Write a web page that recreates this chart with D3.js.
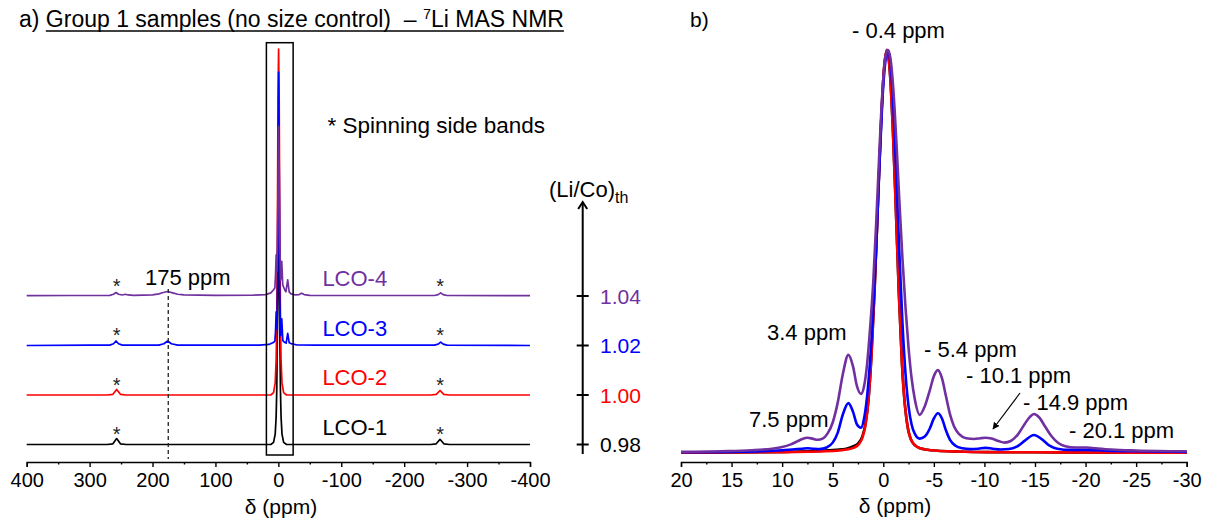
<!DOCTYPE html>
<html><head><meta charset="utf-8">
<script src="https://cdn.jsdelivr.net/npm/d3@7"></script>
<style>
body{margin:0;background:#fff}
svg{display:block}
text{font-family:"Liberation Sans",Arial,Helvetica,sans-serif}
</style>
</head><body>
<svg id="chart" width="1207" height="523"></svg>
<script>
// ---------------- DATA ----------------
const sampleNames = ["LCO-1", "LCO-2", "LCO-3", "LCO-4"];
const liCoValues = [0.98, 1.00, 1.02, 1.04];
const liCoLabels = ["0.98", "1.00", "1.02", "1.04"];
const sampleColors = ["#000000", "#ff0000", "#0000ff", "#7030a0"];

const ppmTicksA = [400, 300, 200, 100, 0, -100, -200, -300, -400];
const ppmMinorA = [350, 250, 150, 50, -50, -150, -250, -350];
const ppmTicksB = [20, 15, 10, 5, 0, -5, -10, -15, -20, -25, -30];
const ppmMinorB = [17.5, 12.5, 7.5, 2.5, -2.5, -7.5, -12.5, -17.5, -22.5, -27.5];

const sidebandPpm = [257, -257];
const markerPpm = 175;
const zoomBoxPpm = [19, -23.5];

// panel a spectra: [ppm, intensity] (LCO-2 main peak = 100)
const specA_LCO1 = [[400,0],[272,0],[263,0.2],[257,1.7],[251,0.2],[242,0],[12,0],[7.6,0.6],[5,3],[3.5,8],[2.5,16],[1.5,33],[0.5,52],[-0.4,60],[-1.3,52],[-2.3,33],[-3.3,16],[-4.3,8],[-5.8,3],[-8.4,0.6],[-13,0],[-242,0],[-251,0.2],[-257,1.5],[-263,0.2],[-272,0],[-400,0]];
const specA_LCO2 = [[400,0],[272,0],[263,0.2],[257,1.6],[251,0.2],[242,0],[12,0],[7.6,0.7],[5,3.5],[3.5,10],[2.5,22],[1.5,48],[0.5,86],[-0.4,100],[-1.3,86],[-2.3,48],[-3.3,22],[-4.3,10],[-5.8,3.5],[-8.4,0.7],[-13,0],[-242,0],[-251,0.2],[-257,1.3],[-263,0.2],[-272,0],[-400,0]];
const specA_LCO3 = [[400,0],[300,0.1],[268,0.1],[262,0.5],[258,1.3],[254,0.5],[248,0.1],[190,0.1],[182,0.5],[176,1.3],[170,0.5],[160,0.1],[30,0.1],[15,0.3],[9,0.8],[7.5,0.9],[5.5,1.3],[4.5,4],[3.45,9.7],[2.2,4.9],[1.3,18],[0.4,55],[-0.4,79],[-1.3,54],[-2.2,15.4],[-3.6,2.8],[-5.4,7.7],[-7.1,1.4],[-10.1,0.9],[-12.4,0.7],[-14.9,3.5],[-17.2,0.8],[-20.1,0.55],[-30,0.15],[-60,0.1],[-248,0.1],[-254,0.4],[-258,1.0],[-262,0.4],[-268,0.1],[-400,0]];
const specA_LCO4 = [[400,0.1],[330,0.15],[290,0.15],[268,0.2],[262,0.5],[258,1.0],[254,0.5],[248,0.3],[243,0.5],[239,0.3],[230,0.2],[200,0.3],[190,0.6],[183,1.0],[176,1.3],[168,0.9],[160,0.5],[150,0.3],[100,0.2],[40,0.25],[20,0.4],[12,0.9],[7.5,1.8],[5.5,2.4],[4.5,6],[3.45,11.9],[2.2,7.2],[1.3,15],[0.4,38],[-0.4,49],[-1.3,37],[-2.2,17.5],[-3.6,4.6],[-5.4,10],[-7.0,3.2],[-10.1,1.8],[-12,1.2],[-14.9,4.7],[-17.2,1.2],[-20.1,0.6],[-26,0.35],[-33,0.4],[-37,0.8],[-41,0.4],[-50,0.2],[-120,0.15],[-248,0.15],[-254,0.4],[-258,0.9],[-262,0.4],[-268,0.15],[-400,0.1]];

// panel b spectra (normalised, main peak = 100)
const specB_LCO1 = [[20,0],[12,0.1],[9.65,0.2],[6.65,0.4],[4.65,0.7],[3.65,1.0],[2.95,1.6],[2.45,2.4],[2.05,4.2],[1.75,7.3],[1.45,13.5],[1.15,25],[0.85,41],[0.55,60.6],[0.25,80],[-0.05,94.6],[-0.35,100],[-0.65,94.6],[-0.95,80],[-1.25,60],[-1.55,39],[-1.85,22],[-2.15,11.5],[-2.45,5.8],[-2.75,3.2],[-3.15,1.8],[-3.65,1.1],[-4.35,0.75],[-5.35,0.5],[-7.35,0.3],[-10.35,0.15],[-15,0.1],[-20,0.05],[-30,0]];
const specB_LCO2 = [[20,0],[12,0.1],[9.65,0.15],[6.65,0.3],[4.65,0.5],[3.65,0.8],[2.95,1.2],[2.45,2.0],[2.05,3.8],[1.75,7],[1.45,13.5],[1.15,25],[0.85,41],[0.55,60.6],[0.25,80],[-0.05,94.6],[-0.35,100],[-0.65,94.6],[-0.95,80],[-1.25,60],[-1.55,39],[-1.85,22],[-2.15,11.5],[-2.45,5.8],[-2.75,3.2],[-3.15,1.8],[-3.65,1.1],[-4.35,0.75],[-5.35,0.5],[-7.35,0.3],[-10.35,0.15],[-15,0.1],[-20,0.05],[-30,0]];
const specB_LCO3 = [[20,0.1],[15,0.2],[12,0.35],[10,0.6],[9,0.8],[8,1.0],[7.5,1.1],[7,1.0],[6.3,0.9],[5.6,1.3],[5.0,2.5],[4.5,5],[4.0,9.5],[3.45,12.3],[3.0,10.2],[2.6,7],[2.2,6.2],[1.9,8.5],[1.6,14],[1.3,23],[1.0,35],[0.7,51],[0.4,70],[0.1,87],[-0.2,97],[-0.45,100],[-0.7,97],[-1.0,86],[-1.3,68],[-1.6,49],[-1.9,32],[-2.2,19.5],[-2.5,11.5],[-2.8,7],[-3.1,4.8],[-3.6,3.5],[-4.1,4.0],[-4.6,6],[-5.0,8.5],[-5.4,9.8],[-5.8,8.5],[-6.2,5.5],[-6.6,3.2],[-7.1,1.8],[-7.8,1.1],[-8.6,0.9],[-9.4,1.0],[-10.1,1.2],[-10.8,1.0],[-11.6,0.8],[-12.4,0.9],[-13.2,1.5],[-14.0,3.0],[-14.9,4.4],[-15.7,3.3],[-16.4,1.8],[-17.2,1.0],[-18.5,0.7],[-20.1,0.7],[-22,0.5],[-25,0.35],[-30,0.2]];
const specB_LCO4 = [[20,0.2],[16,0.35],[13,0.6],[11,1.0],[10,1.4],[9.2,2.0],[8.5,2.8],[8.0,3.4],[7.5,3.7],[7.0,3.5],[6.5,3.2],[6.0,3.5],[5.5,4.8],[5.0,7.5],[4.5,12.5],[4.0,19.5],[3.45,24.3],[3.0,21.5],[2.6,16.5],[2.2,14.6],[1.9,16.5],[1.6,22],[1.3,31],[1.0,42],[0.7,57],[0.4,74],[0.1,89],[-0.2,98],[-0.45,100],[-0.7,98],[-1.0,90],[-1.3,77],[-1.6,62],[-1.9,48],[-2.2,36],[-2.5,26],[-2.8,18.5],[-3.1,13.5],[-3.6,9.4],[-4.1,11.5],[-4.6,15.5],[-5.0,19],[-5.4,20.5],[-5.8,18.5],[-6.2,14],[-6.6,9.5],[-7.0,6.5],[-7.5,4.6],[-8.2,3.6],[-9.0,3.4],[-9.6,3.6],[-10.1,3.7],[-10.7,3.5],[-11.4,2.9],[-12.0,2.5],[-12.6,2.9],[-13.3,4.5],[-14.0,7.2],[-14.5,8.9],[-14.9,9.6],[-15.4,8.8],[-16.0,6.5],[-16.6,4.2],[-17.3,2.4],[-18.0,1.6],[-19.0,1.3],[-20.1,1.3],[-21.0,1.1],[-22.5,0.8],[-25,0.55],[-30,0.35]];

const peakLabelsB = ["- 0.4 ppm", "3.4 ppm", "7.5 ppm", "- 5.4 ppm", "- 10.1 ppm", "- 14.9 ppm", "- 20.1 ppm"];

// ---------------- LAYOUT ----------------
const peakLabelPos = [[852,38],[767,340],[749,427],[924,357],[966,383],[1023,410],[1069,438]];
const FONT = '"Liberation Sans",Arial,Helvetica,sans-serif';

const specA = [specA_LCO1, specA_LCO2, specA_LCO3, specA_LCO4];
const specB = [specB_LCO1, specB_LCO2, specB_LCO3, specB_LCO4];

const svg = d3.select("#chart");

// ---------------- PANEL A ----------------
const xA = d3.scaleLinear().domain([400, -400]).range([26.7, 530]);
const yLevel = d3.scaleLinear().domain([0.98, 1.04]).range([444.5, 296]);
const hA = d3.scaleLinear().domain([0, 100]).range([0, 346]);
const axisY = 462;

const gA = svg.append("g");

specA.forEach((s, i) => {
  const base = yLevel(liCoValues[i]);
  const line = d3.line().x(d => xA(d[0])).y(d => base - hA(d[1])).curve(d3.curveLinear);
  gA.append("path").attr("d", line(s)).attr("fill", "none")
    .attr("stroke", sampleColors[i]).attr("stroke-width", 1.7).attr("stroke-linejoin", "round");
});

// zoom box
gA.append("rect")
  .attr("x", xA(zoomBoxPpm[0])).attr("y", 42.7)
  .attr("width", xA(zoomBoxPpm[1]) - xA(zoomBoxPpm[0])).attr("height", 455 - 42.7)
  .attr("fill", "none").attr("stroke", "#000").attr("stroke-width", 1.5);

// dashed marker
gA.append("line").attr("x1", xA(markerPpm)).attr("x2", xA(markerPpm))
  .attr("y1", 289).attr("y2", 459)
  .attr("stroke", "#222").attr("stroke-width", 1.3).attr("stroke-dasharray", "4,3");
gA.append("text").attr("x", xA(212)).attr("y", 285).attr("font-size", 22).text("175 ppm");

// asterisks and sample labels
liCoValues.forEach((v, i) => {
  const base = yLevel(v);
  sidebandPpm.forEach(p => {
    gA.append("text").attr("x", xA(p)).attr("y", base - 3.5).attr("text-anchor", "middle")
      .attr("font-size", 20).attr("fill", "#222").text("*");
  });
  gA.append("text").attr("x", xA(-70)).attr("y", base - 10).attr("font-size", 22)
    .attr("fill", sampleColors[i]).text(sampleNames[i]);
});

gA.append("text").attr("x", xA(-78)).attr("y", 133).attr("font-size", 22.5).text("* Spinning side bands");

// x axis A
gA.append("g").attr("transform", `translate(0,${axisY})`)
  .call(d3.axisBottom(xA).tickValues(ppmTicksA).tickSize(5).tickSizeOuter(5).tickFormat(d => String(d)));
gA.append("g").attr("transform", `translate(0,${axisY})`)
  .call(d3.axisBottom(xA).tickValues(ppmMinorA).tickSize(2.5).tickSizeOuter(0).tickFormat(""))
  .select(".domain").remove();
gA.append("text").attr("x", 281).attr("y", 514).attr("text-anchor", "middle")
  .attr("font-size", 21).text("δ (ppm)");

// title
const title = svg.append("text").attr("x", 19).attr("y", 27).attr("font-size", 23)
  .style("white-space", "pre");
title.append("tspan").text("a) ");
title.append("tspan").text("Group 1 samples (no size control)  – ");
title.append("tspan").attr("font-size", 14.5).attr("dy", -8).text("7");
title.append("tspan").attr("dy", 8).text("Li MAS NMR");
{
  const node = title.node();
  const n = node.getNumberOfChars();
  const x0 = node.getStartPositionOfChar(3).x;
  const x1 = node.getEndPositionOfChar(n - 1).x;
  svg.append("line").attr("x1", x0).attr("x2", x1).attr("y1", 31).attr("y2", 31)
    .attr("stroke", "#000").attr("stroke-width", 1.4);
}

// (Li/Co)th arrow axis
const arrowX = 582.7;
const gR = svg.append("g");
gR.append("line").attr("x1", arrowX).attr("x2", arrowX).attr("y1", 454).attr("y2", 203)
  .attr("stroke", "#000").attr("stroke-width", 2);
gR.append("path").attr("d", `M${arrowX - 4.5},${209} L${arrowX},${202} L${arrowX + 4.5},${209}`)
  .attr("fill", "none").attr("stroke", "#000").attr("stroke-width", 2);
liCoValues.forEach((v, i) => {
  const y = yLevel(v);
  gR.append("line").attr("x1", arrowX - 6).attr("x2", arrowX + 6).attr("y1", y).attr("y2", y)
    .attr("stroke", "#000").attr("stroke-width", 2);
  gR.append("text").attr("x", 600).attr("y", y + 7.5).attr("font-size", 21)
    .attr("fill", sampleColors[i]).text(liCoLabels[i]);
});
const lct = gR.append("text").attr("x", 549).attr("y", 197).attr("font-size", 22);
lct.append("tspan").text("(Li/Co)");
lct.append("tspan").attr("font-size", 16).attr("dy", 6).text("th");

// ---------------- PANEL B ----------------
const xB = d3.scaleLinear().domain([20, -30]).range([681, 1186.7]);
const yB = d3.scaleLinear().domain([0, 100]).range([452.7, 50]);
const gB = svg.append("g");

specB.forEach((s, i) => {
  const line = d3.line().x(d => xB(d[0])).y(d => yB(d[1])).curve(d3.curveMonotoneX);
  gB.append("path").attr("d", line(s)).attr("fill", "none")
    .attr("stroke", sampleColors[i]).attr("stroke-width", 2.6).attr("stroke-linejoin", "round");
});

gB.append("g").attr("transform", `translate(0,${axisY})`)
  .call(d3.axisBottom(xB).tickValues(ppmTicksB).tickSize(5).tickSizeOuter(5).tickFormat(d => String(d)));
gB.append("g").attr("transform", `translate(0,${axisY})`)
  .call(d3.axisBottom(xB).tickValues(ppmMinorB).tickSize(2.5).tickSizeOuter(0).tickFormat(""))
  .select(".domain").remove();
gB.append("text").attr("x", 895).attr("y", 513).attr("text-anchor", "middle")
  .attr("font-size", 21).text("δ (ppm)");
gB.append("text").attr("x", 690).attr("y", 27).attr("font-size", 21).text("b)");

peakLabelsB.forEach((t, i) => {
  gB.append("text").attr("x", peakLabelPos[i][0]).attr("y", peakLabelPos[i][1])
    .attr("font-size", 22).text(t);
});

// arrow pointing at -10.1 ppm
svg.append("defs").append("marker").attr("id", "ah").attr("viewBox", "0 0 10 10")
  .attr("refX", 9).attr("refY", 5).attr("markerWidth", 7).attr("markerHeight", 7)
  .attr("orient", "auto").attr("markerUnits", "userSpaceOnUse")
  .append("path").attr("d", "M0,0 L10,5 L0,10 z").attr("fill", "#000");
gB.append("line").attr("x1", 1020).attr("y1", 393).attr("x2", 993).attr("y2", 429)
  .attr("stroke", "#000").attr("stroke-width", 1.2).attr("marker-end", "url(#ah)");

// axis styling
svg.selectAll(".tick text").attr("font-size", 20).attr("font-family", FONT).attr("fill", "#000")
  .attr("y", 25).attr("dy", 0);
svg.selectAll(".domain, .tick line").attr("stroke", "#000").attr("stroke-width", 1.4);
</script>
</body></html>
